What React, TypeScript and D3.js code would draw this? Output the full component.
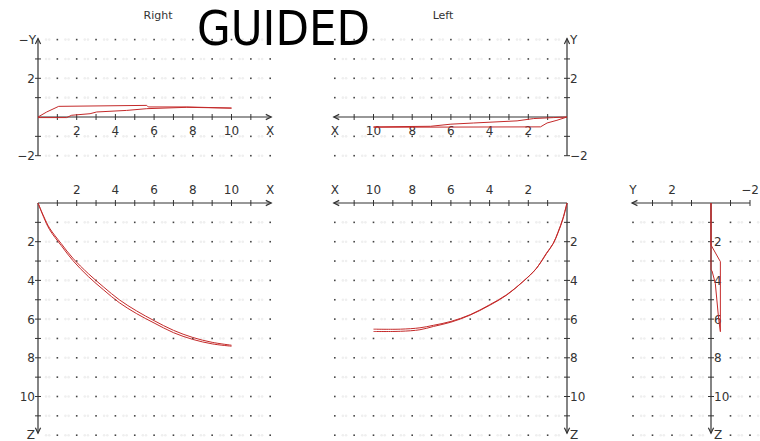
import React from "react";
import * as d3 from "d3";

// Trajectory traces (units on the plotted axes)
// Right view, X–Y plane: [x, y]
const rightXYOuter: [number, number][] = [
  [0, 0], [0.45, 0.26], [1.07, 0.55], [5.62, 0.6], [5.7, 0.52], [7.69, 0.52], [10, 0.46],
];
const rightXYInner: [number, number][] = [
  [0, -0.03], [1.48, -0.03], [1.74, 0.09], [2.69, 0.17], [3.03, 0.26], [4.58, 0.34],
  [5.62, 0.43], [7.69, 0.5], [10, 0.46],
];
// Left view, X–Y plane: [x, y]
const leftXYOuter: [number, number][] = [
  [0, 0], [0.69, -0.03], [1.72, -0.08], [2.58, -0.2], [4.82, -0.31], [6.0, -0.37],
  [7.05, -0.48], [10, -0.51],
];
const leftXYInner: [number, number][] = [
  [0, 0], [0.52, -0.17], [1.03, -0.31], [1.37, -0.51], [10, -0.53],
];
// Right view, X–Z plane: [x, z]
const rightXZOuter: [number, number][] = [
  [0, 0], [0.3, 0.7], [0.6, 1.3], [1.2, 2.1], [1.8, 2.85], [2.6, 3.65], [3.4, 4.35],
  [4.2, 5.0], [5.1, 5.58], [6.0, 6.08], [7.0, 6.58], [8.0, 6.95], [9.0, 7.2], [10, 7.35],
];
const rightXZInner: [number, number][] = [
  [0, 0], [0.3, 0.75], [0.6, 1.38], [1.2, 2.2], [1.8, 2.97], [2.6, 3.8], [3.4, 4.5],
  [4.2, 5.15], [5.1, 5.72], [6.0, 6.2], [7.0, 6.7], [8.0, 7.05], [9.0, 7.28], [10, 7.4],
];
// Left view, X–Z plane: [x, z]
const leftXZOuter: [number, number][] = [
  [0, 0], [0.2, 0.8], [0.45, 1.5], [0.7, 2.08], [1.05, 2.6], [1.57, 3.37], [2.26, 4.05],
  [3.12, 4.74], [4.0, 5.26], [5.0, 5.77], [6.0, 6.12], [6.9, 6.32], [7.6, 6.45],
  [8.6, 6.52], [10, 6.52],
];
const leftXZInner: [number, number][] = [
  [0, 0], [0.22, 0.82], [0.47, 1.52], [0.72, 2.1], [1.08, 2.62], [1.6, 3.4], [2.3, 4.08],
  [3.15, 4.78], [4.02, 5.3], [5.02, 5.8], [6.0, 6.16], [6.9, 6.38], [7.6, 6.55],
  [8.6, 6.63], [10, 6.64],
];
// Front view, Y–Z plane: [y, z]
const frontYZOuter: [number, number][] = [
  [0, 0], [0, 2.17], [-0.48, 3.03], [-0.48, 6.65],
];
const frontYZInner: [number, number][] = [
  [0, 0], [0, 3.46], [-0.05, 3.5], [-0.22, 4.15], [-0.39, 5.96], [-0.48, 6.65],
];

const xTickLabels = [2, 4, 6, 8, 10];
const zTickLabels = [2, 4, 6, 8, 10];
const yTickLabels = [2, -2];
const viewTitles = ["Right", "Left"];
const headline = "GUIDED";

// Scales
const rX = d3.scaleLinear().domain([0, 12]).range([38, 270.2]);
const lX = d3.scaleLinear().domain([0, 12]).range([567, 334.8]);
const topY = d3.scaleLinear().domain([-2, 4]).range([155.7, 39.6]);
const botZ = d3.scaleLinear().domain([0, 12]).range([203, 435.2]);
const frY = d3.scaleLinear().domain([-2, 4]).range([750, 633]);

const AXIS = "#333";
const TRACE = "#c42a2a";
const FONT = "'DejaVu Sans', Verdana, sans-serif";

const lineGen = (sx: d3.ScaleLinear<number, number>, sy: d3.ScaleLinear<number, number>) =>
  d3.line<[number, number]>().x((d) => sx(d[0])).y((d) => sy(d[1]));
const curveGen = (sx: d3.ScaleLinear<number, number>, sy: d3.ScaleLinear<number, number>) =>
  d3.line<[number, number]>().x((d) => sx(d[0])).y((d) => sy(d[1])).curve(d3.curveCatmullRom.alpha(0.5));

function Dots({ sx, sy, xs, ys }: { sx: any; sy: any; xs: number[]; ys: number[] }) {
  const items: React.ReactNode[] = [];
  const step = Math.abs(sx(1) - sx(0));
  xs.forEach((x) =>
    ys.forEach((y) => {
      const px = sx(x);
      const py = sy(y);
      items.push(<rect key={`d${x}_${y}`} x={px - 0.8} y={py - 0.8} width={1.6} height={1.6} fill="#444" />);
      const mx = px + (sx(1) > sx(0) ? -step / 2 : step / 2);
      items.push(<circle key={`a${x}_${y}`} cx={mx - 1.6} cy={py} r={1.3} fill="#efefef" />);
      items.push(<circle key={`b${x}_${y}`} cx={mx + 1.6} cy={py} r={1.3} fill="#efefef" />);
    })
  );
  return <g>{items}</g>;
}

// Axis line with open arrowhead at (x2, y2)
function Arrow({ x1, y1, x2, y2 }: { x1: number; y1: number; x2: number; y2: number }) {
  const ang = Math.atan2(y2 - y1, x2 - x1);
  const L = 6;
  const a1 = ang + Math.PI - 0.45;
  const a2 = ang + Math.PI + 0.45;
  return (
    <g stroke={AXIS} strokeWidth={1.2} fill="none">
      <line x1={x1} y1={y1} x2={x2} y2={y2} />
      <path
        d={`M${x2 + L * Math.cos(a1)},${y2 + L * Math.sin(a1)}L${x2},${y2}L${x2 + L * Math.cos(a2)},${y2 + L * Math.sin(a2)}`}
      />
    </g>
  );
}

function HTicks({ sx, y, vals }: { sx: any; y: number; vals: number[] }) {
  return (
    <g stroke={AXIS} strokeWidth={1}>
      {vals.map((v) => (
        <line key={v} x1={sx(v)} x2={sx(v)} y1={y - 3} y2={y + 3} />
      ))}
    </g>
  );
}
function VTicks({ sy, x, vals }: { sy: any; x: number; vals: number[] }) {
  return (
    <g stroke={AXIS} strokeWidth={1}>
      {vals.map((v) => (
        <line key={v} y1={sy(v)} y2={sy(v)} x1={x - 3} x2={x + 3} />
      ))}
    </g>
  );
}

const units = d3.range(1, 12);
const units12 = d3.range(1, 13);
const ySpan = [-2, -1, 1, 2, 3];

export default function App() {
  const txt = { fontFamily: FONT, fontSize: 12, fill: "#333" } as const;
  const trace = { fill: "none", stroke: TRACE, strokeWidth: 1, strokeLinejoin: "round" as const };

  const rX0 = rX(0);
  const lX0 = lX(0);
  const y0 = topY(0);
  const z0 = botZ(0);
  const fY0 = frY(0);
  const zLabelY = 439;

  return (
    <svg
      width={760}
      height={441}
      style={{ position: "absolute", left: 0, top: 0, background: "#fff" }}
    >
      <rect width={760} height={441} fill="#fff" />

      {/* grid dots */}
      <Dots sx={rX} sy={topY} xs={units12} ys={[-2, -1, 1, 2, 3, 4]} />
      <Dots sx={lX} sy={topY} xs={units12} ys={[-2, -1, 1, 2, 3, 4]} />
      <Dots sx={rX} sy={botZ} xs={units12} ys={units12} />
      <Dots sx={lX} sy={botZ} xs={units12} ys={units12} />
      <Dots sx={frY} sy={botZ} xs={[-2, -1, 1, 2, 3, 4]} ys={units12} />

      {/* view titles */}
      <text x={158} y={19} textAnchor="middle" style={{ fontFamily: FONT, fontSize: 11, fill: "#333" }}>
        {viewTitles[0]}
      </text>
      <text x={443} y={19} textAnchor="middle" style={{ fontFamily: FONT, fontSize: 11, fill: "#333" }}>
        {viewTitles[1]}
      </text>

      {/* Right: X–Y */}
      <Arrow x1={rX0} y1={y0} x2={rX(12) + 1} y2={y0} />
      <Arrow x1={rX0} y1={topY(-2)} x2={rX0} y2={topY(4) - 1} />
      <HTicks sx={rX} y={y0} vals={units} />
      <VTicks sy={topY} x={rX0} vals={ySpan} />
      {xTickLabels.map((v) => (
        <text key={v} x={rX(v)} y={y0 + 18} textAnchor="middle" style={txt}>{v}</text>
      ))}
      <text x={rX(12)} y={y0 + 18} textAnchor="middle" style={txt}>X</text>
      {yTickLabels.map((v) => (
        <text key={v} x={rX0 - 3} y={topY(v) + 4.5} textAnchor="end" style={txt}>
          {v < 0 ? `\u2212${-v}` : v}
        </text>
      ))}
      <text x={rX0 - 2} y={topY(4) + 4} textAnchor="end" style={txt}>{"\u2212Y"}</text>
      <path d={lineGen(rX, topY)(rightXYOuter) ?? ""} {...trace} />
      <path d={lineGen(rX, topY)(rightXYInner) ?? ""} {...trace} />

      {/* Left: X–Y */}
      <Arrow x1={lX0} y1={y0} x2={lX(12) - 1} y2={y0} />
      <Arrow x1={lX0} y1={topY(-2)} x2={lX0} y2={topY(4) - 1} />
      <HTicks sx={lX} y={y0} vals={units} />
      <VTicks sy={topY} x={lX0} vals={ySpan} />
      {xTickLabels.map((v) => (
        <text key={v} x={lX(v)} y={y0 + 18} textAnchor="middle" style={txt}>{v}</text>
      ))}
      <text x={lX(12)} y={y0 + 18} textAnchor="middle" style={txt}>X</text>
      {yTickLabels.map((v) => (
        <text key={v} x={lX0 + 3} y={topY(v) + 4.5} textAnchor="start" style={txt}>
          {v < 0 ? `\u2212${-v}` : v}
        </text>
      ))}
      <text x={lX0 + 3} y={topY(4) + 4} textAnchor="start" style={txt}>Y</text>
      <path d={lineGen(lX, topY)(leftXYOuter) ?? ""} {...trace} />
      <path d={lineGen(lX, topY)(leftXYInner) ?? ""} {...trace} />

      {/* Right: X–Z */}
      <Arrow x1={rX0} y1={z0} x2={rX(12) + 1} y2={z0} />
      <Arrow x1={rX0} y1={z0} x2={rX0} y2={botZ(12) - 2} />
      <HTicks sx={rX} y={z0} vals={units} />
      <VTicks sy={botZ} x={rX0} vals={units} />
      {xTickLabels.map((v) => (
        <text key={v} x={rX(v)} y={z0 - 9} textAnchor="middle" style={txt}>{v}</text>
      ))}
      <text x={rX(12)} y={z0 - 9} textAnchor="middle" style={txt}>X</text>
      {zTickLabels.map((v) => (
        <text key={v} x={rX0 - 3} y={botZ(v) + 4.5} textAnchor="end" style={txt}>{v}</text>
      ))}
      <text x={rX0 - 3} y={zLabelY} textAnchor="end" style={txt}>Z</text>
      <path d={curveGen(rX, botZ)(rightXZOuter) ?? ""} {...trace} />
      <path d={curveGen(rX, botZ)(rightXZInner) ?? ""} {...trace} />

      {/* Left: X–Z */}
      <Arrow x1={lX0} y1={z0} x2={lX(12) - 1} y2={z0} />
      <Arrow x1={lX0} y1={z0} x2={lX0} y2={botZ(12) - 2} />
      <HTicks sx={lX} y={z0} vals={units} />
      <VTicks sy={botZ} x={lX0} vals={units} />
      {xTickLabels.map((v) => (
        <text key={v} x={lX(v)} y={z0 - 9} textAnchor="middle" style={txt}>{v}</text>
      ))}
      <text x={lX(12)} y={z0 - 9} textAnchor="middle" style={txt}>X</text>
      {zTickLabels.map((v) => (
        <text key={v} x={lX0 + 3} y={botZ(v) + 4.5} textAnchor="start" style={txt}>{v}</text>
      ))}
      <text x={lX0 + 3} y={zLabelY} textAnchor="start" style={txt}>Z</text>
      <path d={curveGen(lX, botZ)(leftXZOuter) ?? ""} {...trace} />
      <path d={curveGen(lX, botZ)(leftXZInner) ?? ""} {...trace} />

      {/* Front: Y–Z */}
      <Arrow x1={frY(-2)} y1={z0} x2={frY(4) - 1} y2={z0} />
      <Arrow x1={fY0} y1={z0} x2={fY0} y2={botZ(12) - 2} />
      <HTicks sx={frY} y={z0} vals={[-2, -1, 1, 2, 3]} />
      <VTicks sy={botZ} x={fY0} vals={units} />
      {yTickLabels.map((v) => (
        <text key={v} x={frY(v)} y={z0 - 9} textAnchor="middle" style={txt}>
          {v < 0 ? `\u2212${-v}` : v}
        </text>
      ))}
      <text x={frY(4)} y={z0 - 9} textAnchor="middle" style={txt}>Y</text>
      {zTickLabels.map((v) => (
        <text key={v} x={fY0 + 3} y={botZ(v) + 4.5} textAnchor="start" style={txt}>{v}</text>
      ))}
      <text x={fY0 + 3} y={zLabelY} textAnchor="start" style={txt}>Z</text>
      <path d={lineGen(frY, botZ)(frontYZOuter) ?? ""} {...trace} />
      <path d={lineGen(frY, botZ)(frontYZInner) ?? ""} {...trace} />

      {/* headline */}
      <text
        x={197}
        y={45}
        textLength={173}
        lengthAdjust="spacingAndGlyphs"
        style={{ fontFamily: "'DejaVu Sans Condensed', 'DejaVu Sans', sans-serif", fontSize: 48, fill: "#000" }}
      >
        {headline}
      </text>
    </svg>
  );
}
